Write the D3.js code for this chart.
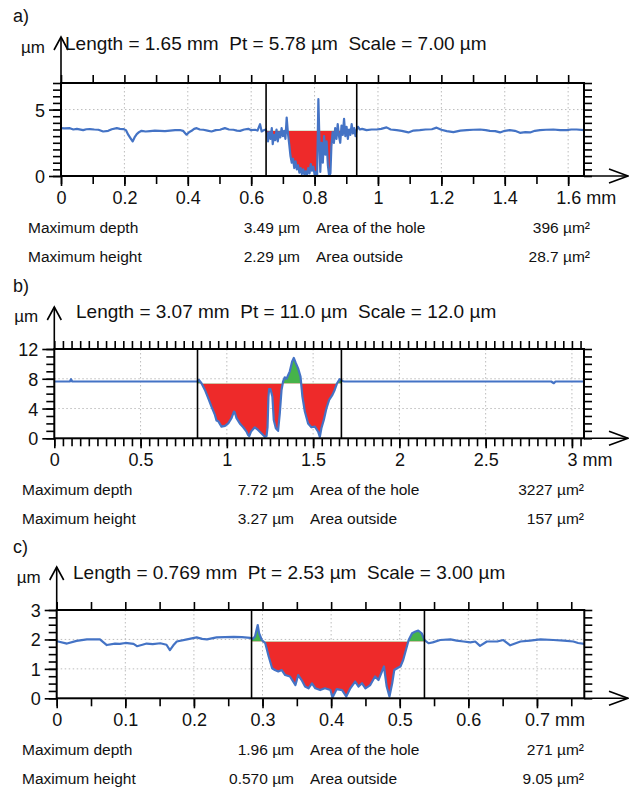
<!DOCTYPE html>
<html><head><meta charset="utf-8">
<script src="https://cdn.jsdelivr.net/npm/d3@7"></script>
<style>
body{margin:0;background:#fff}
text{font-family:"Liberation Sans",Arial,sans-serif;fill:#111}
</style>
</head><body>
<svg id="chart" width="629" height="787"></svg>
<script>
// ---------------- DATA ----------------
// Panel a) profile (x in mm, z in µm)
const aX = [0,0.01,0.028,0.039,0.05,0.07,0.08,0.091,0.105,0.118,0.133,0.149,0.16,0.176,0.186,0.197,0.205,0.212,0.219,0.226,0.232,0.239,0.246,0.254,0.267,0.281,0.296,0.312,0.328,0.344,0.36,0.375,0.385,0.396,0.404,0.412,0.42,0.428,0.438,0.449,0.462,0.475,0.488,0.502,0.51,0.517,0.53,0.544,0.555,0.565,0.578,0.591,0.6,0.612,0.62,0.628,0.633,0.64,0.646,
 0.65,0.653,0.657,0.661,0.665,0.668,0.672,0.676,0.68,0.684,0.688,0.692,0.696,0.7,0.704,0.708,0.712,0.716,0.72,0.724,0.728,0.732,0.736,0.74,0.744,0.748,0.752,0.756,0.76,0.764,0.768,0.772,0.776,0.78,0.784,0.788,0.792,0.796,0.8,0.804,0.808,0.812,0.815,0.818,0.822,0.826,0.83,0.834,0.838,0.842,0.846,0.85,0.853,0.857,0.861,0.865,0.869,0.873,0.877,0.881,0.885,0.889,0.893,0.897,0.901,0.905,0.909,0.913,0.917,0.921,0.925,0.929,0.933,0.937,
 0.943,0.95,0.964,0.98,0.996,1.01,1.027,1.04,1.059,1.075,1.096,1.112,1.132,1.15,1.17,1.185,1.2,1.217,1.238,1.26,1.28,1.3,1.322,1.34,1.353,1.37,1.385,1.4,1.416,1.432,1.448,1.465,1.48,1.495,1.511,1.53,1.553,1.575,1.595,1.61,1.627,1.65];
const aZ = [3.6,3.58,3.6,3.5,3.55,3.45,3.52,3.53,3.5,3.48,3.35,3.4,3.52,3.6,3.55,3.53,3.45,3.11,2.85,2.6,2.9,3.15,3.3,3.4,3.35,3.38,3.42,3.4,3.38,3.42,3.45,3.46,3.4,3.11,3.3,3.4,3.55,3.6,3.5,3.48,3.42,3.35,3.45,3.48,3.55,3.6,3.5,3.48,3.42,3.4,3.5,3.55,3.45,3.48,3.42,3.9,3.35,3.45,3.5,
 3.2,2.6,3.3,2.8,3.6,2.4,3.1,2.7,3.5,2.6,3.3,2.9,3.6,3.0,3.4,2.8,4.4,3.2,2.4,1.5,1.0,1.3,0.6,1.1,0.5,0.8,0.25,0.6,0.15,0.5,0.1,0.35,0.05,0.6,0.2,0.9,0.4,0.7,0.1,0.3,0.05,5.78,3.0,0.3,2.5,1.0,3.0,1.6,2.6,0.8,0.0,0.2,2.2,3.3,2.5,3.6,2.8,3.9,3.0,2.5,3.8,3.1,4.3,3.0,3.7,2.8,3.5,3.1,3.9,3.2,3.6,3.0,3.5,3.7,
 3.5,3.55,3.45,3.5,3.5,3.55,3.66,3.5,3.45,3.4,3.28,3.42,3.45,3.5,3.52,3.64,3.48,3.38,3.3,3.42,3.45,3.48,3.5,3.45,3.4,3.38,3.28,3.4,3.45,3.4,3.25,3.3,3.28,3.4,3.45,3.48,3.5,3.45,3.45,3.5,3.5,3.45];

// Panel b) profile
const bX = [0,0.09,0.097,0.104,0.83,0.834,0.838,0.853,0.873,0.892,0.911,0.931,0.94,0.95,0.969,0.989,1.008,1.027,1.041,1.046,1.056,1.075,1.095,1.114,1.123,1.13,1.14,1.162,1.181,1.2,1.22,1.23,1.236,1.241,1.245,1.253,1.264,1.272,1.284,1.297,1.307,1.317,1.326,1.336,1.346,1.365,1.378,1.388,1.4,1.413,1.427,1.438,1.452,1.471,1.49,1.51,1.529,1.539,1.548,1.562,1.577,1.593,1.612,1.625,1.639,1.654,1.67,1.68,2.88,2.895,2.905,3.07];
const bZ = [7.63,7.63,7.95,7.63,7.63,7.76,7.86,7.4,6.5,5.4,4.26,3.14,2.4,2.3,1.57,1.66,2.0,2.7,3.6,3.5,2.7,2.0,1.48,0.9,0.44,0.3,0.9,1.48,1.12,0.67,0.2,0.3,1.5,5.5,6.6,6.6,5.6,2.47,1.35,1.0,3.37,6.5,7.63,8.2,8.0,9.0,10.3,10.8,10.1,9.4,8.3,5.6,3.6,2.0,1.48,1.57,0.9,0.2,1.35,2.47,4.0,5.16,5.84,6.5,7.4,7.95,7.7,7.63,7.63,7.4,7.63,7.63];

// Panel c) profile
const cX = [0,0.002,0.015,0.029,0.044,0.063,0.073,0.085,0.092,0.1,0.112,0.117,0.125,0.131,0.14,0.151,0.16,0.165,0.17,0.175,0.19,0.204,0.212,0.219,0.233,0.245,0.258,0.27,0.282,
 0.286,0.289,0.293,0.295,0.299,0.304,0.309,0.314,0.318,0.323,0.328,0.333,0.34,0.348,0.352,0.357,0.362,0.367,0.372,0.377,0.384,0.391,0.399,0.402,0.408,0.416,0.422,0.428,0.435,0.44,0.445,0.45,0.457,0.464,0.469,0.474,0.477,0.481,0.485,0.489,0.492,0.496,0.501,0.505,0.509,0.513,0.518,0.523,0.527,0.532,0.536,0.542,
 0.548,0.559,0.574,0.583,0.593,0.603,0.61,0.617,0.627,0.642,0.651,0.661,0.676,0.69,0.705,0.724,0.739,0.753,0.76,0.769];
const cZ = [1.93,1.93,1.86,1.95,2.0,2.0,1.81,1.86,1.85,1.88,1.85,1.77,1.82,1.86,1.84,1.87,1.82,1.64,1.8,1.93,2.0,2.07,2.02,2.0,2.07,2.08,2.09,2.08,2.05,
 2.02,2.10,2.49,2.21,1.98,1.87,1.42,1.02,0.96,0.91,0.96,0.79,0.74,0.45,0.79,0.62,0.40,0.34,0.51,0.34,0.28,0.34,0.28,0.03,0.31,0.28,0.06,0.34,0.57,0.40,0.51,0.34,0.45,0.74,0.62,0.91,1.08,0.40,0.06,0.51,0.96,1.02,1.08,1.30,1.64,1.98,2.21,2.27,2.30,2.21,1.98,1.87,
 1.9,1.98,2.0,1.96,1.93,1.9,1.93,1.78,1.93,1.93,1.98,1.8,1.93,1.96,2.0,1.98,1.96,1.93,1.88,1.85];

// Tick labels
const aXTicks = [0,0.2,0.4,0.6,0.8,1,1.2,1.4,1.6];
const aYTicks = [0,5];
const bXTicks = [0,0.5,1,1.5,2,2.5,3];
const bYTicks = [0,4,8,12];
const cXTicks = [0,0.1,0.2,0.3,0.4,0.5,0.6,0.7];
const cYTicks = [0,1,2,3];

// Hole limits (mm) and reference level (µm)
const aHole = [0.647, 0.933], aRef = 3.4;
const bHole = [0.830, 1.664], bRef = 7.36;
const cHole = [0.284, 0.536], cRef = 1.93;

// Texts
const aTitle = "Length = 1.65 mm  Pt = 5.78 µm  Scale = 7.00 µm";
const bTitle = "Length = 3.07 mm  Pt = 11.0 µm  Scale = 12.0 µm";
const cTitle = "Length = 0.769 mm  Pt = 2.53 µm  Scale = 3.00 µm";
const aStats = [["Maximum depth","3.49 µm","Area of the hole","396 µm²"],["Maximum height","2.29 µm","Area outside","28.7 µm²"]];
const bStats = [["Maximum depth","7.72 µm","Area of the hole","3227 µm²"],["Maximum height","3.27 µm","Area outside","157 µm²"]];
const cStats = [["Maximum depth","1.96 µm","Area of the hole","271 µm²"],["Maximum height","0.570 µm","Area outside","9.05 µm²"]];

// ---------------- LAYOUT ----------------
const panels = [
 {id:"a", letter:"a)", xs:aX, zs:aZ, xMax:1.65, yMax:7, left:61, right:584, top:83, bottom:176,
  xTicks:aXTicks, xMinor:0.1, yTicks:aYTicks, yMinor:0.5, hole:aHole, ref:aRef, title:aTitle, stats:aStats,
  letterY:22, titleY:50, titleX:65, umY:53, arrowTop:37, statsX:28},
 {id:"b", letter:"b)", xs:bX, zs:bZ, xMax:3.07, yMax:12, left:54.3, right:584, top:349, bottom:438.3,
  xTicks:bXTicks, xMinor:0.05, yTicks:bYTicks, yMinor:1, hole:bHole, ref:bRef, title:bTitle, stats:bStats,
  letterY:292, titleY:318, titleX:76, umY:322, arrowTop:307, statsX:22},
 {id:"c", letter:"c)", xs:cX, zs:cZ, xMax:0.769, yMax:3, left:56.7, right:584.3, top:610, bottom:698.3,
  xTicks:cXTicks, xMinor:0.05, yTicks:cYTicks, yMinor:0.25, hole:cHole, ref:cRef, title:cTitle, stats:cStats,
  letterY:553, titleY:579, titleX:73, umY:583, arrowTop:567, statsX:22}
];

const svg = d3.select("#chart");
const defs = svg.append("defs");
const BLUE = "#4473c5", RED = "#ee2a2a", GREEN = "#46b34a";

panels.forEach(p => {
  const x = d3.scaleLinear().domain([0, p.xMax]).range([p.left, p.right]);
  const y = d3.scaleLinear().domain([0, p.yMax]).range([p.bottom, p.top]);
  const g = svg.append("g");
  const pts = p.xs.map((v,i)=>({x:v, z:p.zs[i]}));

  // grid
  const gx = p.xTicks.filter(v => v > 0 && x(v) < p.right - 2);
  g.selectAll(null).data(gx).enter().append("line")
    .attr("x1", d=>x(d)).attr("x2", d=>x(d)).attr("y1", p.top).attr("y2", p.bottom)
    .attr("stroke","#bcbcbc").attr("stroke-width",1).attr("stroke-dasharray","1.5,2.5");
  const gy = p.yTicks.filter(v => v > 0 && v < p.yMax);
  g.selectAll(null).data(gy).enter().append("line")
    .attr("x1", p.left).attr("x2", p.right).attr("y1", d=>y(d)).attr("y2", d=>y(d))
    .attr("stroke","#bcbcbc").attr("stroke-width",1).attr("stroke-dasharray","1.5,2.5");

  // fills
  const x1 = x(p.hole[0]), x2 = x(p.hole[1]), yr = y(p.ref);
  defs.append("clipPath").attr("id","red"+p.id).append("rect")
    .attr("x",x1).attr("y",yr).attr("width",x2-x1).attr("height",p.bottom-yr);
  defs.append("clipPath").attr("id","green"+p.id).append("rect")
    .attr("x",x1).attr("y",p.top).attr("width",x2-x1).attr("height",yr-p.top);
  const area = d3.area().x(d=>x(d.x)).y0(yr).y1(d=>y(d.z));
  g.append("path").datum(pts).attr("d",area).attr("fill",RED).attr("clip-path",`url(#red${p.id})`);
  g.append("path").datum(pts).attr("d",area).attr("fill",GREEN).attr("clip-path",`url(#green${p.id})`);

  // profile
  g.append("path").datum(pts)
    .attr("d", d3.line().x(d=>x(d.x)).y(d=>y(d.z)))
    .attr("fill","none").attr("stroke",BLUE).attr("stroke-width",2.2).attr("stroke-linejoin","round");

  // hole limit lines
  g.selectAll(null).data(p.hole).enter().append("line")
    .attr("x1",d=>x(d)).attr("x2",d=>x(d)).attr("y1",p.top).attr("y2",p.bottom)
    .attr("stroke","#000").attr("stroke-width",1.6);

  // minor ticks
  const xm = d3.range(0, p.xMax + 1e-9, p.xMinor).filter(v => x(v) <= p.right - 3);
  const ym = d3.range(0, p.yMax + 1e-9, p.yMinor);
  const styleAxis = sel => { sel.select(".domain").remove(); sel.selectAll("line").attr("stroke","#000").attr("stroke-width",1.6); };
  g.append("g").attr("transform",`translate(0,${p.top})`).call(d3.axisTop(x).tickValues(xm).tickSize(8).tickFormat("")).call(styleAxis);
  g.append("g").attr("transform",`translate(0,${p.bottom})`).call(d3.axisBottom(x).tickValues(xm).tickSize(8).tickFormat("")).call(styleAxis);
  g.append("g").attr("transform",`translate(${p.left},0)`).call(d3.axisLeft(y).tickValues(ym).tickSize(8).tickFormat("")).call(styleAxis);
  g.append("g").attr("transform",`translate(${p.right},0)`).call(d3.axisRight(y).tickValues(ym).tickSize(8).tickFormat("")).call(styleAxis);

  // major axes with labels
  const xa = g.append("g").attr("transform",`translate(0,${p.bottom})`)
    .call(d3.axisBottom(x).tickValues(p.xTicks).tickSize(10).tickPadding(5).tickFormat(d=>String(d)))
    .call(styleAxis);
  xa.selectAll("text").attr("font-size",18).attr("font-family","Liberation Sans, Arial, sans-serif").attr("fill","#111");
  const last = xa.selectAll(".tick text").filter((d,i,n)=>i===n.length-1);
  const w = last.node().getComputedTextLength();
  last.attr("text-anchor","start").attr("x",-w/2);
  last.append("tspan").text("\u00a0mm");
  const ya = g.append("g").attr("transform",`translate(${p.left},0)`)
    .call(d3.axisLeft(y).tickValues(p.yTicks).tickSize(12).tickPadding(4).tickFormat(d=>String(d)))
    .call(styleAxis);
  ya.selectAll("text").attr("font-size",18).attr("font-family","Liberation Sans, Arial, sans-serif").attr("fill","#111").attr("dy","0.36em");

  // box
  g.append("rect").attr("x",p.left).attr("y",p.top).attr("width",p.right-p.left).attr("height",p.bottom-p.top)
    .attr("fill","none").attr("stroke","#000").attr("stroke-width",2);

  // axis arrows
  g.append("line").attr("x1",p.left).attr("x2",p.left).attr("y1",p.top).attr("y2",p.arrowTop)
    .attr("stroke","#000").attr("stroke-width",1.6);
  g.append("path").attr("d",`M${p.left-7},${p.arrowTop+13} L${p.left},${p.arrowTop} L${p.left+7},${p.arrowTop+13}`)
    .attr("fill","none").attr("stroke","#000").attr("stroke-width",1.6);
  g.append("line").attr("x1",p.right).attr("x2",628).attr("y1",p.bottom).attr("y2",p.bottom)
    .attr("stroke","#000").attr("stroke-width",1.6);
  g.append("path").attr("d",`M${609},${p.bottom-7} L${628},${p.bottom} L${609},${p.bottom+7}`)
    .attr("fill","none").attr("stroke","#000").attr("stroke-width",1.6);

  // texts
  g.append("text").attr("x",13).attr("y",p.letterY).attr("font-size",18).text(p.letter);
  g.append("text").attr("x",p.left-16).attr("y",p.umY).attr("font-size",17).attr("text-anchor","end").text("µm");
  g.append("text").attr("x",p.titleX).attr("y",p.titleY).attr("font-size",19)
    .style("white-space","pre").text(p.title);

  // stats
  p.stats.forEach((row,i) => {
    const yy = p.bottom + 57 + i*29;
    g.append("text").attr("x",p.statsX).attr("y",yy).attr("font-size",15.5).text(row[0]);
    g.append("text").attr("x",p.statsX+272).attr("y",yy).attr("font-size",15.5).attr("text-anchor","end").text(row[1]);
    g.append("text").attr("x",p.statsX+288).attr("y",yy).attr("font-size",15.5).text(row[2]);
    g.append("text").attr("x",p.statsX+562).attr("y",yy).attr("font-size",15.5).attr("text-anchor","end").text(row[3]);
  });
});
</script>
</body></html>
